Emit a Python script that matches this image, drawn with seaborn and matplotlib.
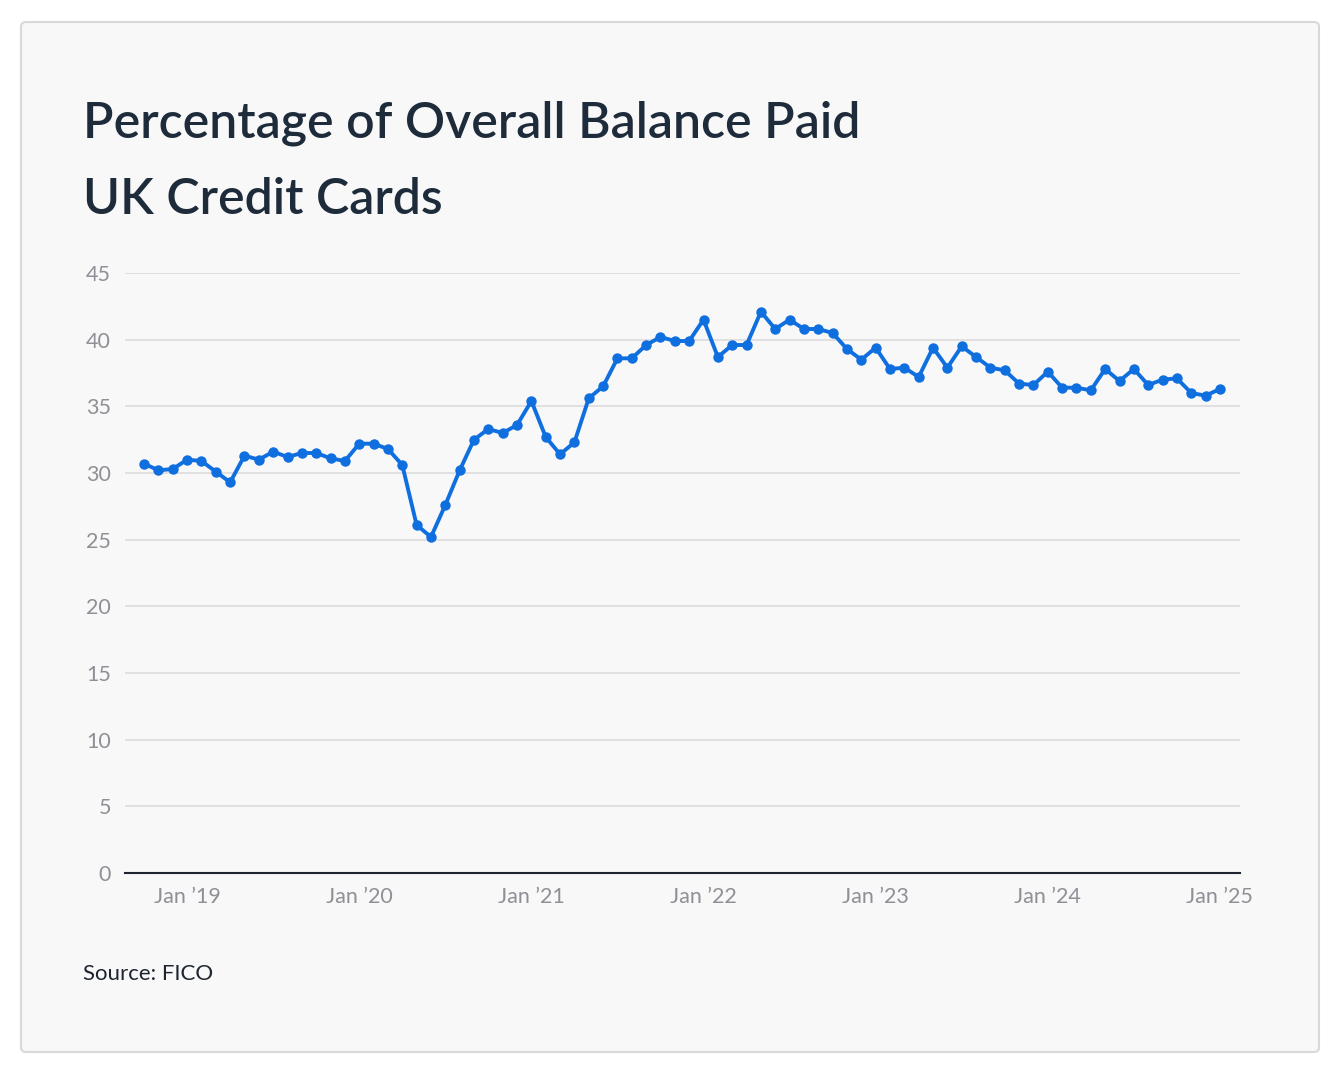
import matplotlib
matplotlib.use("Agg")
import matplotlib.pyplot as plt
import seaborn as sns
import pandas as pd
from matplotlib.patches import FancyBboxPatch

months = pd.date_range("2018-10-01", "2025-01-01", freq="MS")
values = [30.7, 30.2, 30.3,
          31.0, 30.9, 30.1, 29.3, 31.3, 31.0, 31.6, 31.2, 31.5, 31.5, 31.1, 30.9,
          32.2, 32.2, 31.8, 30.6, 26.1, 25.2, 27.6, 30.2, 32.5, 33.3, 33.0, 33.6,
          35.4, 32.7, 31.4, 32.3, 35.6, 36.5, 38.6, 38.6, 39.6, 40.2, 39.9, 39.9,
          41.5, 38.7, 39.6, 39.6, 42.1, 40.8, 41.5, 40.8, 40.8, 40.5, 39.3, 38.5,
          39.4, 37.8, 37.9, 37.2, 39.4, 37.9, 39.5, 38.7, 37.9, 37.7, 36.7, 36.6,
          37.6, 36.4, 36.4, 36.2, 37.8, 36.9, 37.8, 36.6, 37.0, 37.1, 36.0, 35.8,
          36.3]
tick_labels = ["Jan \u201919", "Jan \u201920", "Jan \u201921", "Jan \u201922",
               "Jan \u201923", "Jan \u201924", "Jan \u201925"]
y_ticks = [0, 5, 10, 15, 20, 25, 30, 35, 40, 45]

df = pd.DataFrame({"idx": range(len(months)), "value": values})

bg = "#f8f8f9"
fig = plt.figure(figsize=(13.4, 10.74), dpi=100, facecolor="white")
card = FancyBboxPatch((21/1340, 22/1074), 1298/1340, 1030/1074,
                      boxstyle="round,pad=0,rounding_size=0.004",
                      transform=fig.transFigure, facecolor=bg,
                      edgecolor="#d9d9dc", linewidth=1.5, zorder=-10)
fig.patches.append(card)

ax = fig.add_axes([125/1340, 201/1074, 1115/1340, 600/1074])
ax.set_facecolor(bg)
ax.patch.set_alpha(0)
sns.lineplot(data=df, x="idx", y="value", ax=ax, color="#0f6fdf",
             linewidth=2.8, marker="o", markersize=7.5, markeredgewidth=0,
             clip_on=False)

ax.set_ylim(0, 45)
ax.set_xlim(-1.33, 76.4)
ax.set_yticks(y_ticks)
ax.set_xticks([3 + 12 * i for i in range(len(tick_labels))])
ax.set_xticklabels(tick_labels)
ax.set_xlabel("")
ax.set_ylabel("")
for s in ["top", "right", "left"]:
    ax.spines[s].set_visible(False)
ax.spines["bottom"].set_color("#1e2530")
ax.spines["bottom"].set_linewidth(1.5)
ax.grid(axis="y", color="#dcdcdf", linewidth=1.2)
ax.set_axisbelow(True)
ax.tick_params(axis="both", length=0, labelsize=15.5, labelcolor="#8e9096",
               pad=10)
for t in ax.get_yticklabels() + ax.get_xticklabels():
    t.set_fontfamily("Lato")

fig.text(83/1340, 1 - 123/1074, "Percentage of Overall Balance Paid",
         fontsize=36, color="#1e2b3a", fontfamily="Lato", fontweight="semibold",
         va="center")
fig.text(83/1340, 1 - 200/1074, "UK Credit Cards",
         fontsize=36, color="#1e2b3a", fontfamily="Lato", fontweight="semibold",
         va="center")
fig.text(83/1340, 1 - 974/1074, "Source: FICO", fontsize=16,
         color="#1e2530", fontfamily="Lato", va="center")

fig.savefig("out.png", dpi=100, facecolor="white")
